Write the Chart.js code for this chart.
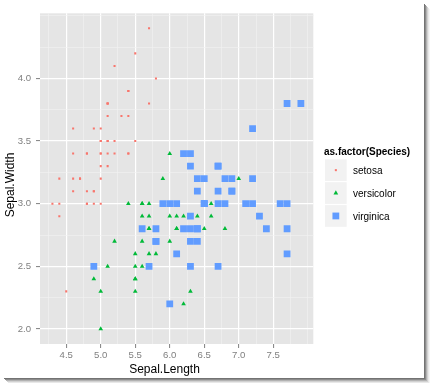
<!DOCTYPE html>
<html>
<head>
<meta charset="utf-8">
<script src="https://cdn.jsdelivr.net/npm/chart.js@4/dist/chart.umd.min.js"></script>
<style>
  html, body { margin: 0; padding: 0; background: #ffffff; }
  #c { display: block; }
</style>
</head>
<body>
<canvas id="c" width="430" height="383"></canvas>
<script>
// ---- data (iris: Sepal.Length vs Sepal.Width by species) ----
const species = ['setosa', 'versicolor', 'virginica'];
const speciesColors = ['#F8766D', '#00BA38', '#619CFF'];

const setosaX = [5.1,4.9,4.7,4.6,5.0,5.4,4.6,5.0,4.4,4.9,5.4,4.8,4.8,4.3,5.8,5.7,5.4,5.1,5.7,5.1,5.4,5.1,4.6,5.1,4.8,5.0,5.0,5.2,5.2,4.7,4.8,5.4,5.2,5.5,4.9,5.0,5.5,4.9,4.4,5.1,5.0,4.5,4.4,5.0,5.1,4.8,5.1,4.6,5.3,5.0];
const setosaY = [3.5,3.0,3.2,3.1,3.6,3.9,3.4,3.4,2.9,3.1,3.7,3.4,3.0,3.0,4.0,4.4,3.9,3.5,3.8,3.8,3.4,3.7,3.6,3.3,3.4,3.0,3.4,3.5,3.4,3.2,3.1,3.4,4.1,4.2,3.1,3.2,3.5,3.6,3.0,3.4,3.5,2.3,3.2,3.5,3.8,3.0,3.8,3.2,3.7,3.3];

const versicolorX = [7.0,6.4,6.9,5.5,6.5,5.7,6.3,4.9,6.6,5.2,5.0,5.9,6.0,6.1,5.6,6.7,5.6,5.8,6.2,5.6,5.9,6.1,6.3,6.1,6.4,6.6,6.8,6.7,6.0,5.7,5.5,5.5,5.8,6.0,5.4,6.0,6.7,6.3,5.6,5.5,5.5,6.1,5.8,5.0,5.6,5.7,5.7,6.2,5.1,5.7];
const versicolorY = [3.2,3.2,3.1,2.3,2.8,2.8,3.3,2.4,2.9,2.7,2.0,3.0,2.2,2.9,2.9,3.1,3.0,2.7,2.2,2.5,3.2,2.8,2.5,2.8,2.9,3.0,2.8,3.0,2.9,2.6,2.4,2.4,2.7,2.7,3.0,3.4,3.1,2.3,3.0,2.5,2.6,3.0,2.6,2.3,2.7,3.0,2.9,2.9,2.5,2.8];

const virginicaX = [6.3,5.8,7.1,6.3,6.5,7.6,4.9,7.3,6.7,7.2,6.5,6.4,6.8,5.7,5.8,6.4,6.5,7.7,7.7,6.0,6.9,5.6,7.7,6.3,6.7,7.2,6.2,6.1,6.4,7.2,7.4,7.9,6.4,6.3,6.1,7.7,6.3,6.4,6.0,6.9,6.7,6.9,5.8,6.8,6.7,6.7,6.3,6.5,6.2,5.9];
const virginicaY = [3.3,2.7,3.0,2.9,3.0,3.0,2.5,2.9,2.5,3.6,3.2,2.7,3.0,2.5,2.8,3.2,3.0,3.8,2.6,2.2,3.2,2.8,2.8,2.7,3.3,3.2,2.8,3.0,2.8,3.0,2.8,3.8,2.8,2.8,2.6,3.0,3.4,3.1,3.0,3.1,3.1,3.1,2.7,3.2,3.3,3.0,2.5,3.0,3.4,3.0];

// tick labels (major breaks) and minor grid breaks
const xTickValues = [4.5,5.0,5.5,6.0,6.5,7.0,7.5];
const xTickLabels = ['4.5','5.0','5.5','6.0','6.5','7.0','7.5'];
const xMinorValues = [4.25,4.75,5.25,5.75,6.25,6.75,7.25,7.75,8.0];
const yTickValues = [2.0,2.5,3.0,3.5,4.0];
const yTickLabels = ['2.0','2.5','3.0','3.5','4.0'];
const yMinorValues = [2.25,2.75,3.25,3.75,4.25,4.5];

const xTitle = 'Sepal.Length';
const yTitle = 'Sepal.Width';
const legendTitle = 'as.factor(Species)';

// ---- helpers ----
const near = (a, b) => Math.abs(a - b) < 1e-6;
const idxIn = (arr, v) => arr.findIndex(t => near(t, v));
const pts = (xs, ys) => xs.map((x, i) => ({ x: x, y: ys[i] }));

const FONT = '"Liberation Sans", Arial, "DejaVu Sans", sans-serif';
const pointStyles = ['rect', 'triangle', 'rect'];
const pointRadii = [1.45, 2.7, 4.8];

const datasets = [
  [setosaX, setosaY],
  [versicolorX, versicolorY],
  [virginicaX, virginicaY]
].map((d, i) => ({
  label: species[i],
  data: pts(d[0], d[1]),
  pointStyle: pointStyles[i],
  pointRadius: pointRadii[i],
  pointHoverRadius: pointRadii[i],
  backgroundColor: speciesColors[i],
  borderColor: speciesColors[i],
  borderWidth: 0,
  order: 3 - i
}));

function gridOpts(majors) {
  return {
    display: true,
    drawOnChartArea: true,
    drawTicks: true,
    tickLength: 4,
    tickWidth: 1,
    color: (ctx) => (ctx.tick && idxIn(majors, ctx.tick.value) >= 0) ? '#FFFFFF' : '#F2F2F2',
    lineWidth: (ctx) => (ctx.tick && idxIn(majors, ctx.tick.value) >= 0) ? 1.2 : 0.6,
    tickColor: (ctx) => (ctx.tick && idxIn(majors, ctx.tick.value) >= 0) ? '#7F7F7F' : 'rgba(0,0,0,0)'
  };
}

const panelPlugin = {
  id: 'panelPlugin',
  beforeDraw(chart) {
    const { ctx, chartArea: a } = chart;
    ctx.save();
    ctx.fillStyle = '#FFFFFF';
    ctx.fillRect(0, 0, chart.width, chart.height);
    ctx.fillStyle = '#E5E5E5';
    ctx.fillRect(a.left, a.top, a.right - a.left, a.bottom - a.top);
    ctx.restore();
  },
  afterDraw(chart) {
    const { ctx } = chart;
    ctx.save();
    // axis titles
    ctx.fillStyle = '#000000';
    ctx.font = '12px ' + FONT;
    ctx.textAlign = 'center';
    ctx.textBaseline = 'alphabetic';
    ctx.fillText(xTitle, 164.5, 373);
    ctx.save();
    ctx.translate(13.5, 185);
    ctx.rotate(-Math.PI / 2);
    ctx.fillText(yTitle, 0, 0);
    ctx.restore();

    // legend
    ctx.textAlign = 'left';
    ctx.font = 'bold 10px ' + FONT;
    ctx.fillText(legendTitle, 324, 154.5);
    ctx.font = '10px ' + FONT;
    const ds = chart.data.datasets;
    for (let i = 0; i < ds.length; i++) {
      const by = 159.3 + i * 22.9;
      ctx.fillStyle = '#F2F2F2';
      ctx.fillRect(325, by, 21.7, 21.7);
      const cx = 325 + 21.7 / 2, cy = by + 21.7 / 2;
      ctx.fillStyle = ds[i].backgroundColor;
      ctx.strokeStyle = ds[i].borderColor;
      Chart.helpers.drawPoint(ctx, {
        pointStyle: ds[i].pointStyle,
        radius: ds[i].pointRadius,
        borderWidth: 0,
        rotation: 0
      }, cx, cy);
      ctx.fillStyle = '#000000';
      ctx.textBaseline = 'middle';
      ctx.fillText(ds[i].label, 353, cy + 1.5);
    }

    // drop shadow at right and bottom edges
    const alphas = [0.55, 0.45, 0.3, 0.18, 0.09, 0.04];
    for (let i = 0; i < alphas.length; i++) {
      ctx.fillStyle = 'rgba(0,0,0,' + alphas[i] + ')';
      ctx.fillRect(424 + i, 4 + i, 1, 375);
      ctx.fillRect(4 + i, 378 + i, 420, 1);
    }
    ctx.restore();
  }
};

new Chart(document.getElementById('c'), {
  type: 'scatter',
  data: { datasets: datasets },
  options: {
    responsive: false,
    animation: false,
    devicePixelRatio: 1,
    layout: { padding: { left: 0, top: 13.3, right: 116.7, bottom: 0 } },
    plugins: { legend: { display: false }, tooltip: { enabled: false } },
    scales: {
      x: {
        type: 'linear',
        position: 'bottom',
        min: 4.12,
        max: 8.08,
        afterBuildTicks: (s) => { s.ticks = xTickValues.concat(xMinorValues).sort((a, b) => a - b).map(v => ({ value: v })); },
        afterFit: (s) => { s.height = 39; },
        border: { display: false },
        grid: gridOpts(xTickValues),
        ticks: {
          autoSkip: false,
          maxRotation: 0,
          padding: 2,
          color: '#7F7F7F',
          font: { family: FONT, size: 9.6 },
          callback: (v) => { const k = idxIn(xTickValues, v); return k >= 0 ? xTickLabels[k] : ''; }
        }
      },
      y: {
        type: 'linear',
        position: 'left',
        min: 1.88,
        max: 4.52,
        afterBuildTicks: (s) => { s.ticks = yTickValues.concat(yMinorValues).sort((a, b) => a - b).map(v => ({ value: v })); },
        afterFit: (s) => { s.width = 40; },
        border: { display: false },
        grid: gridOpts(yTickValues),
        ticks: {
          autoSkip: false,
          padding: 5,
          color: '#7F7F7F',
          font: { family: FONT, size: 9.6 },
          callback: (v) => { const k = idxIn(yTickValues, v); return k >= 0 ? yTickLabels[k] : ''; }
        }
      }
    }
  },
  plugins: [panelPlugin]
});
</script>
</body>
</html>
